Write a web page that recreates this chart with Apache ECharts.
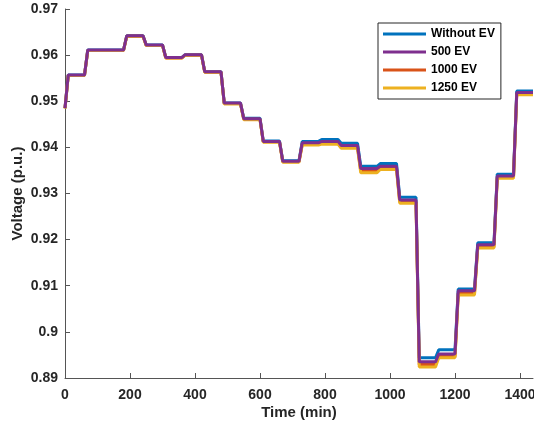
<!DOCTYPE html>
<html>
<head>
<meta charset="utf-8">
<script src="https://cdn.jsdelivr.net/npm/echarts@6/dist/echarts.min.js"></script>
<style>
  html, body { margin: 0; padding: 0; background: #fff; }
  #chart { width: 534px; height: 429px; }
</style>
</head>
<body>
<div id="chart"></div>
<script>
// hourly voltage levels (p.u.), each hour held from 60h+10 to 60h+60 min
let seriesNames = ["Without EV", "500 EV", "1000 EV", "1250 EV"];
let startValue = [0.9485, 0.9485, 0.9485, 0.9484];

let noEV = [0.9557, 0.9611, 0.9611, 0.9642, 0.9622, 0.9595, 0.9601, 0.9564,
    0.9496, 0.9463, 0.9414, 0.9371, 0.9413, 0.9417, 0.9409, 0.9359,
    0.9365, 0.9292, 0.8944, 0.8961, 0.9093, 0.9193, 0.9342, 0.9522];
let ev500 = [0.9557, 0.9611, 0.9611, 0.9642, 0.9622, 0.9595, 0.9601, 0.9564,
    0.9496, 0.9462, 0.9413, 0.9370, 0.9410, 0.9413, 0.9404, 0.9354,
    0.9359, 0.9286, 0.8935, 0.8952, 0.9089, 0.9189, 0.9338, 0.9519];
let ev1000 = [0.9556, 0.9610, 0.9610, 0.9641, 0.9621, 0.9594, 0.9600, 0.9563,
    0.9495, 0.9461, 0.9412, 0.9369, 0.9407, 0.9409, 0.9400, 0.9349,
    0.9355, 0.9282, 0.8929, 0.8947, 0.9084, 0.9185, 0.9335, 0.9516];
let ev1250 = [0.9556, 0.9610, 0.9610, 0.9641, 0.9621, 0.9594, 0.9600, 0.9563,
    0.9494, 0.9460, 0.9411, 0.9368, 0.9405, 0.9407, 0.9398, 0.9345,
    0.9352, 0.9279, 0.8924, 0.8944, 0.9080, 0.9182, 0.9333, 0.9514];

let xTicks = [0, 200, 400, 600, 800, 1000, 1200, 1400];
let yTicks = [0.89, 0.90, 0.91, 0.92, 0.93, 0.94, 0.95, 0.96, 0.97];

let colors = ["#0072BD", "#7E2F8E", "#D95319", "#EDB120"];

function steps(start, hourly) {
    let pts = [[0, start]];
    hourly.forEach(function (v, h) {
        pts.push([60 * h + 10, v]);
        pts.push([60 * h + 60, v]);
    });
    return pts;
}

let allValues = [noEV, ev500, ev1000, ev1250];
let zOrder = [2, 5, 3, 4];

let chart = echarts.init(document.getElementById("chart"));

let labelFont = {
    fontFamily: "Liberation Sans, Arial, sans-serif",
    fontWeight: "bold",
    fontSize: 14,
    color: "#262626"
};

let option = {
    animation: false,
    backgroundColor: "#fff",
    color: colors,
    grid: { left: 65, right: 1, top: 9, bottom: 51, containLabel: false, outerBoundsMode: "none" },
    legend: {
        data: seriesNames,
        orient: "vertical",
        left: 378,
        top: 23,
        padding: [4, 6, 4, 5],
        itemWidth: 43,
        itemHeight: 3,
        itemGap: 4,
        icon: "rect",
        borderColor: "#262626",
        borderWidth: 1,
        backgroundColor: "#fff",
        textStyle: {
            fontFamily: "Liberation Sans, Arial, sans-serif",
            fontWeight: "bold",
            fontSize: 12,
            lineHeight: 14,
            color: "#000"
        }
    },
    xAxis: {
        type: "value",
        min: 0,
        max: 1440,
        name: "Time (min)",
        nameLocation: "middle",
        nameGap: 27,
        nameMoveOverlap: false,
        nameTextStyle: Object.assign({}, labelFont, { fontSize: 15 }),
        axisLine: { lineStyle: { color: "#555", width: 1 } },
        axisTick: { inside: true, length: 5, customValues: xTicks, lineStyle: { color: "#555" } },
        axisLabel: Object.assign({
            customValues: xTicks,
            margin: 10,
            formatter: function (v) { return String(v); }
        }, labelFont),
        splitLine: { show: false }
    },
    yAxis: {
        type: "value",
        min: 0.89,
        max: 0.97,
        interval: 0.01,
        name: "Voltage (p.u.)",
        nameLocation: "middle",
        nameGap: 40,
        nameMoveOverlap: false,
        nameTextStyle: Object.assign({}, labelFont, { fontSize: 15 }),
        axisLine: { show: true, lineStyle: { color: "#555", width: 1 } },
        axisTick: { show: true, inside: true, length: 5, customValues: yTicks, lineStyle: { color: "#555" } },
        axisLabel: Object.assign({
            customValues: yTicks,
            margin: 7,
            formatter: function (v) { return String(+v.toFixed(2)); }
        }, labelFont),
        splitLine: { show: false }
    },
    series: seriesNames.map(function (name, i) {
        return {
            name: name,
            type: "line",
            z: zOrder[i],
            showSymbol: false,
            symbol: "none",
            lineStyle: { width: 3, color: colors[i] },
            data: steps(startValue[i], allValues[i])
        };
    })
};

chart.setOption(option);
</script>
</body>
</html>
